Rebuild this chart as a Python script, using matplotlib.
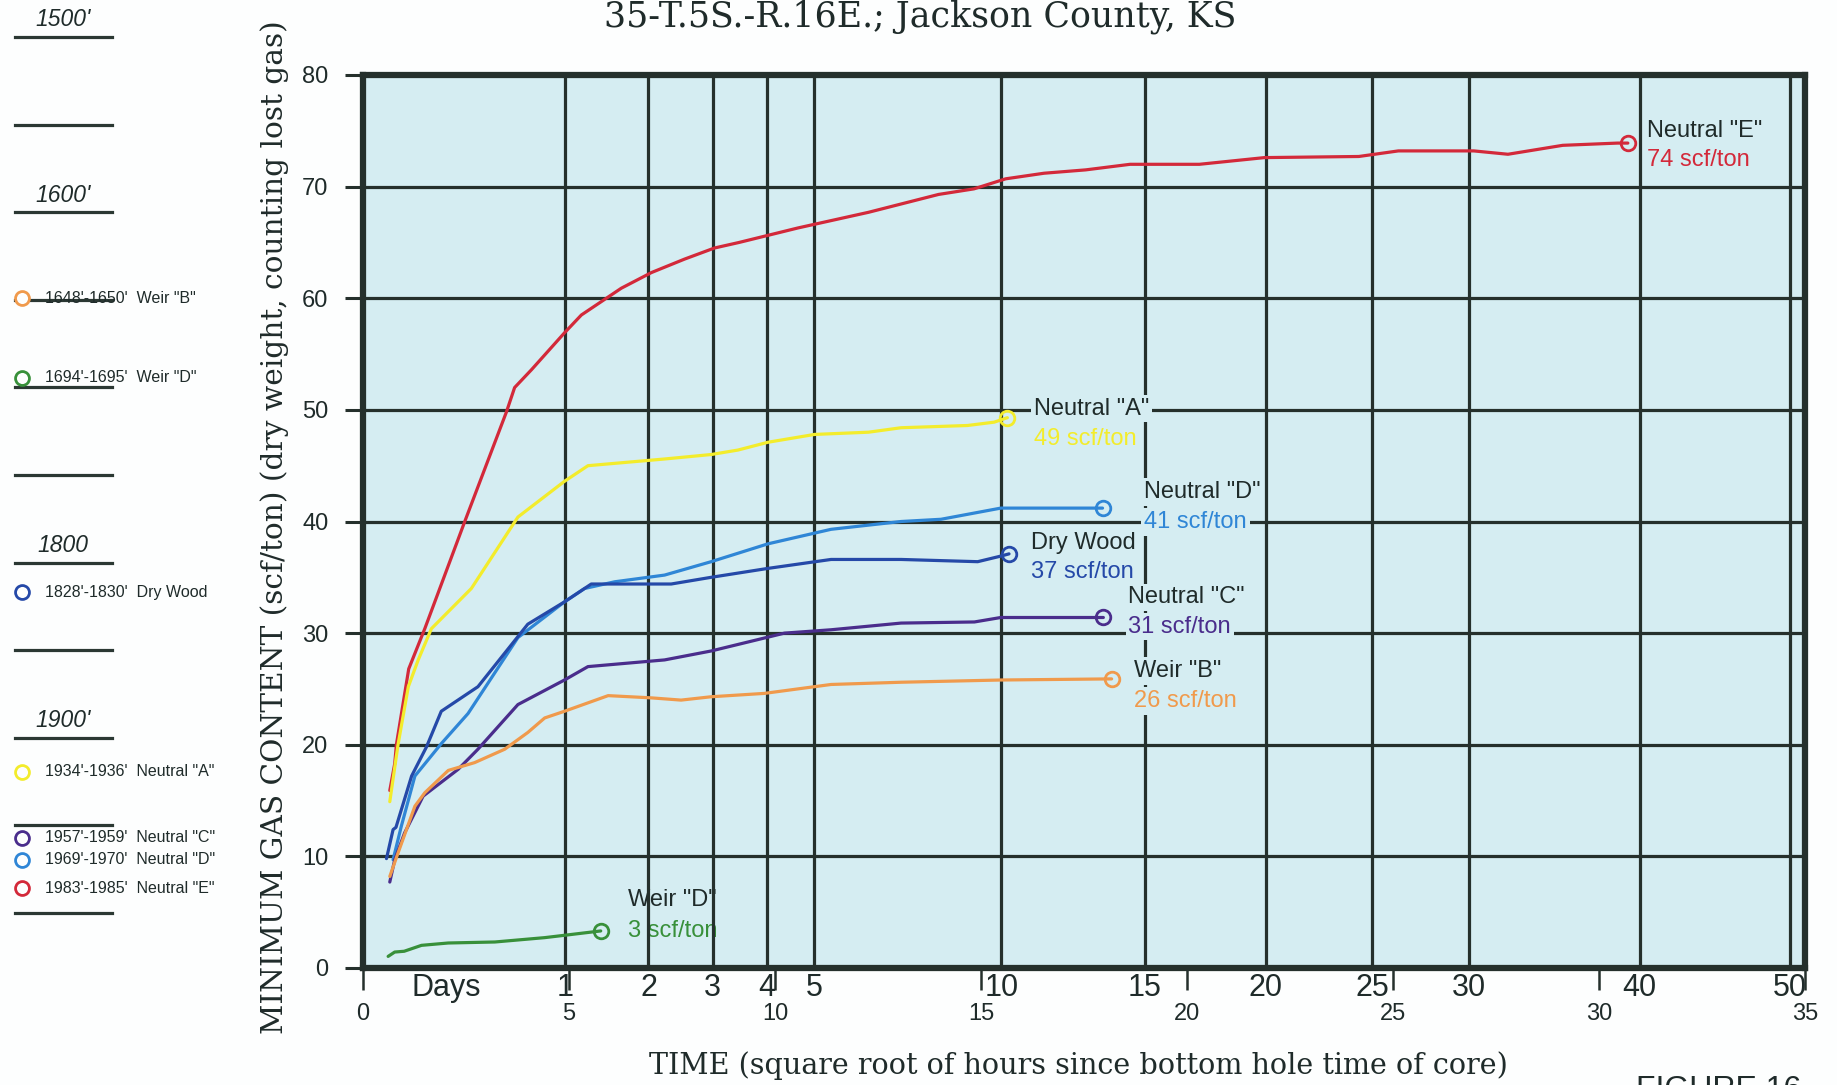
import numpy as np
import matplotlib
matplotlib.use("Agg")
import matplotlib.pyplot as plt
from matplotlib.transforms import offset_copy

# ---- desorption data: x = sqrt(hours since bottom-hole time), y = scf/ton ----
red_x = [0.65, 0.77, 0.81, 1.11, 1.50, 2.47, 3.48, 3.68, 4.09, 4.89, 5.30, 6.27, 7.00,
         7.80, 8.53, 9.13, 10.56, 12.27, 13.97, 14.83, 15.60, 16.53, 17.54, 18.62,
         20.30, 21.88, 24.17, 25.13, 26.96, 27.79, 29.12, 30.45, 30.70]
red_y = [15.9, 18.3, 20.0, 26.8, 30.4, 40.0, 49.8, 52.0, 53.6, 56.9, 58.5, 60.9, 62.3,
         63.5, 64.5, 65.0, 66.3, 67.7, 69.3, 69.8, 70.7, 71.2, 71.5, 72.0,
         72.0, 72.6, 72.7, 73.2, 73.2, 72.9, 73.7, 73.9, 73.9]

yel_x = [0.65, 0.85, 1.10, 1.34, 1.66, 2.63, 3.76, 4.89, 5.46, 7.32, 8.45, 9.10, 9.83,
         10.96, 12.27, 13.06, 14.67, 15.32, 15.64]
yel_y = [14.9, 20.0, 25.2, 27.6, 30.4, 34.0, 40.4, 43.6, 45.0, 45.6, 46.0, 46.4, 47.1,
         47.8, 48.0, 48.4, 48.6, 48.9, 49.3]

nd_x = [0.73, 0.93, 1.26, 1.90, 2.55, 3.76, 4.89, 5.38, 6.11, 7.32, 8.45, 9.83, 11.36,
        13.06, 14.03, 15.48, 17.95]
nd_y = [9.7, 12.7, 17.2, 20.1, 22.8, 29.6, 32.8, 34.0, 34.6, 35.2, 36.4, 38.0, 39.3,
        40.0, 40.2, 41.2, 41.2]

dw_x = [0.57, 0.73, 0.80, 1.18, 1.54, 1.90, 2.79, 4.00, 4.89, 5.54, 7.48, 8.45, 9.83,
        11.36, 13.06, 14.92, 15.48, 15.68]
dw_y = [9.8, 12.4, 12.6, 17.2, 19.8, 23.0, 25.2, 30.8, 32.8, 34.4, 34.4, 35.0, 35.8,
        36.6, 36.6, 36.4, 36.9, 37.1]

nc_x = [0.65, 0.77, 1.01, 1.46, 2.31, 2.79, 3.76, 4.89, 5.46, 7.32, 8.45, 9.34, 10.23,
        11.36, 13.06, 14.84, 15.48, 17.97]
nc_y = [7.7, 9.7, 12.1, 15.4, 17.8, 19.6, 23.6, 25.8, 27.0, 27.6, 28.4, 29.2, 30.0,
        30.3, 30.9, 31.0, 31.4, 31.4]

wb_x = [0.65, 0.85, 1.26, 1.50, 2.07, 2.71, 3.44, 4.00, 4.41, 4.89, 5.95, 7.00, 7.72,
        8.45, 9.74, 11.36, 13.06, 15.48, 18.17]
wb_y = [8.2, 10.3, 14.5, 15.7, 17.7, 18.4, 19.6, 21.1, 22.4, 23.0, 24.4, 24.2, 24.0,
        24.3, 24.6, 25.4, 25.6, 25.8, 25.9]

wd_x = [0.61, 0.77, 1.00, 1.42, 2.07, 3.20, 4.41, 4.89, 5.77]
wd_y = [1.04, 1.43, 1.50, 2.03, 2.24, 2.33, 2.72, 2.93, 3.32]

# ---- axis scales ----
day_ticks = [1, 2, 3, 4, 5, 10, 15, 20, 25, 30, 40, 50]
hour_ticks = [0, 5, 10, 15, 20, 25, 30, 35]
gas_ticks = [0, 10, 20, 30, 40, 50, 60, 70, 80]

# ---- core-depth column ----
depth_lines = [1500, 1550, 1600, 1650, 1700, 1750, 1800, 1850, 1900, 1950, 2000]
depth_labels = {1500: "1500'", 1600: "1600'", 1800: "1800", 1900: "1900'"}
core_intervals = ["1648'-1650'", "1694'-1695'", "1828'-1830'", "1934'-1936'",
                  "1957'-1959'", "1969'-1970'", "1983'-1985'"]
core_names = ['Weir "B"', 'Weir "D"', "Dry Wood", 'Neutral "A"',
              'Neutral "C"', 'Neutral "D"', 'Neutral "E"']
core_rows = [1649, 1694.5, 1817, 1919.5, 1957, 1969.5, 1986]

# ---- styling ----
BG = "#d5edf2"
GRID = "#25302c"
TXT = "#1f2b2a"
SANS = ["Liberation Sans", "DejaVu Sans"]
SERIF = ["DejaVu Serif"]
plt.rcParams["font.family"] = SANS

C_RED = "#d3293a"
C_YEL = "#f3ec2c"
C_ND = "#2f86d6"
C_DW = "#2549a8"
C_NC = "#4a2d8c"
C_WB = "#f09a4c"
C_WD = "#38903a"

series = [
    # x, y, colour, name, name offset (pt), value offset (pt), masked
    (red_x, red_y, C_RED, 'Neutral "E"', (14, 8.5), (14, -12), True),
    (yel_x, yel_y, C_YEL, 'Neutral "A"', (19, 6.5), (19, -15), True),
    (nd_x, nd_y, C_ND, 'Neutral "D"', (30, 11.5), (30, -10), True),
    (dw_x, dw_y, C_DW, "Dry Wood", (16, 8), (16, -13), True),
    (nc_x, nc_y, C_NC, 'Neutral "C"', (18, 14.5), (18, -6.5), True),
    (wb_x, wb_y, C_WB, 'Weir "B"', (16, 5.5), (16, -16), True),
    (wd_x, wd_y, C_WD, 'Weir "D"', (19.5, 22), (19.5, 0), False),
]
side_colors = [C_WB, C_WD, C_DW, C_YEL, C_NC, C_ND, C_RED]

W, H = 1837, 1085
fig = plt.figure(figsize=(W / 100, H / 100), dpi=100, facecolor="#fdfefe")

ax = fig.add_axes([363 / W, 1 - 968 / H, (1805 - 363) / W, (968 - 75) / H])
ax.set_facecolor(BG)
ax.set_xlim(0, 35)
ax.set_ylim(0, 80)

for d in day_ticks:
    ax.axvline(np.sqrt(24 * d), color=GRID, lw=2.3, zorder=2)
for v in gas_ticks[1:-1]:
    ax.axhline(v, color=GRID, lw=2.3, zorder=2)

for x, y, col, name, off_n, off_v, masked in series:
    ax.plot(x, y, color=col, lw=2.3, zorder=3, solid_capstyle="round")
    ax.plot(x[-1], y[-1], "o", mfc="none", mec=col, ms=10.5, mew=2.0, zorder=4)
    box = dict(boxstyle="square,pad=0.12", fc=BG, ec="none") if masked else None
    z = 5 if masked else 1.5
    tn = offset_copy(ax.transData, fig=fig, x=off_n[0], y=off_n[1], units="points")
    tv = offset_copy(ax.transData, fig=fig, x=off_v[0], y=off_v[1], units="points")
    ax.text(x[-1], y[-1], name, transform=tn, ha="left", va="center",
            fontsize=17, color=TXT, bbox=box, zorder=z)
    ax.text(x[-1], y[-1], f"{round(y[-1])} scf/ton", transform=tv, ha="left",
            va="center", fontsize=17, color=col, bbox=box, zorder=z)

for s in ax.spines.values():
    s.set_linewidth(4.5)
    s.set_color(GRID)
    s.set_zorder(6)

ax.set_yticks(gas_ticks)
ax.tick_params(axis="y", length=13, width=2.2, pad=12, labelsize=17,
               color=GRID, labelcolor=TXT)
ax.set_xticks(hour_ticks)
ax.tick_params(axis="x", length=16, width=1.8, pad=9, labelsize=17,
               color=GRID, labelcolor=TXT)

day_tr = ax.get_xaxis_transform()
for d in day_ticks:
    ax.text(np.sqrt(24 * d), -0.022, str(d), transform=day_tr, ha="center",
            va="center", fontsize=22, color=TXT)
ax.text(2.02, -0.022, "Days", transform=day_tr, ha="center", va="center",
        fontsize=22, color=TXT)

fig.text(920 / W, 1 - 17 / H, "35-T.5S.-R.16E.; Jackson County, KS",
         ha="center", va="center", family=SERIF, fontsize=25, color=TXT)
fig.text(275 / W, 1 - 527 / H,
         "MINIMUM GAS CONTENT (scf/ton) (dry weight, counting lost gas)",
         rotation=90, ha="center", va="center", family=SERIF, fontsize=21.3, color=TXT)
fig.text(1078 / W, 1 - 1066 / H,
         "TIME (square root of hours since bottom hole time of core)",
         ha="center", va="center", family=SERIF, fontsize=20.6, color=TXT)
fig.text(1636 / W, 1 - 1075 / H, "FIGURE 16", ha="left", va="top",
         fontsize=23, color=TXT)

# core-depth column at the left
side = fig.add_axes([0, 0, 367 / W, 1])
side.axis("off")
side.set_xlim(0, 367)
side.set_ylim(1478.9 + H / 1.752, 1478.9)
for d in depth_lines:
    side.plot([15, 112], [d, d], color="#2b3833", lw=2.3)
    if d in depth_labels:
        tr = offset_copy(side.transData, fig=fig, x=0, y=4, units="points")
        side.text(63, d, depth_labels[d], transform=tr, ha="center", va="bottom",
                  style="italic", fontsize=16.5, color=TXT)
for row, interval, name, col in zip(core_rows, core_intervals, core_names, side_colors):
    side.plot(22, row, "o", mfc="#fdfefe", mec=col, ms=10, mew=2.0, zorder=3)
    side.text(45, row, f"{interval}  {name}", ha="left", va="center",
              fontsize=11.5, color=TXT)

fig.savefig("out.png", dpi=100, facecolor=fig.get_facecolor())
